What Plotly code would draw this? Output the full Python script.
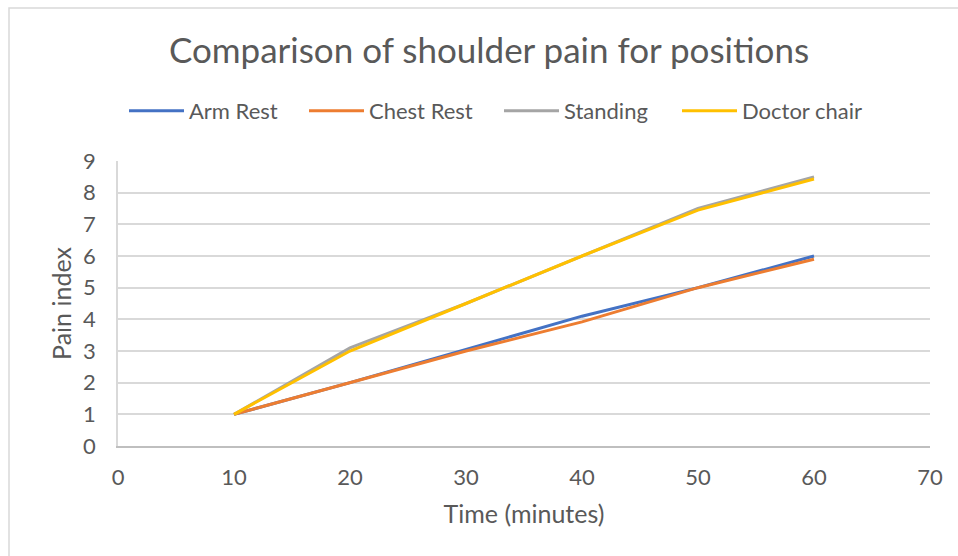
import plotly.graph_objects as go

time_min = [10, 20, 30, 40, 50, 60]
arm_rest = [1, 2, 3.05, 4.1, 5, 6]
chest_rest = [1, 2, 3, 3.92, 5, 5.9]
standing = [1, 3.1, 4.5, 6, 7.5, 8.5]
doctor_chair = [1, 3, 4.5, 6, 7.45, 8.43]

series = [
    ("Arm Rest", arm_rest, "#4472C4"),
    ("Chest Rest", chest_rest, "#ED7D31"),
    ("Standing", standing, "#A5A5A5"),
    ("Doctor chair", doctor_chair, "#FFC000"),
]
legend_line_start_px = [130, 310, 505, 683]

FONT = "Lato, Open Sans, sans-serif"
TXT = "#595959"

W, H = 958, 556
L, R, T, B = 118, 28, 161, 110
pw, ph = W - L - R, H - T - B

def px_to_paper_x(px):
    return (px - L) / pw

def px_to_paper_y(py):
    return (H - B - py) / ph

fig = go.Figure()
legend_layouts = {}
for i, ((name, vals, color), lx) in enumerate(zip(series, legend_line_start_px)):
    key = "legend" if i == 0 else f"legend{i + 1}"
    fig.add_trace(go.Scatter(x=time_min, y=vals, mode="lines", name=name,
                             legend=key, line=dict(color=color, width=3)))
    legend_layouts[key] = dict(
        orientation="h", x=px_to_paper_x(lx - 6), xanchor="left",
        y=px_to_paper_y(111), yanchor="middle",
        font=dict(size=22, color=TXT, family=FONT),
        itemwidth=55, bgcolor="rgba(0,0,0,0)", borderwidth=0)

fig.update_layout(
    width=W, height=H,
    margin=dict(l=L, r=R, t=T, b=B),
    paper_bgcolor="white", plot_bgcolor="white",
    font=dict(family=FONT, color=TXT),
    title=dict(text="Comparison of shoulder pain for positions",
               x=489 / W, xanchor="center", y=1 - 51 / H, yanchor="middle",
               font=dict(size=35, color=TXT, family=FONT)),
    xaxis=dict(range=[0, 70], tickmode="linear", tick0=0, dtick=10,
               showgrid=False, zeroline=False, showline=True,
               linecolor="#BFBFBF", linewidth=1.5,
               ticks="", ticklabelstandoff=11, tickfont=dict(size=22, color=TXT, family=FONT),
               title=dict(text="Time (minutes)", font=dict(size=25, color=TXT, family=FONT), standoff=16)),
    yaxis=dict(range=[0, 9], tickmode="linear", tick0=0, dtick=1,
               showgrid=True, gridcolor="#D9D9D9", gridwidth=1.5,
               zeroline=False, showline=True, linecolor="#D9D9D9", linewidth=1.5,
               ticks="", ticklabelstandoff=16, tickfont=dict(size=22, color=TXT, family=FONT),
               title=dict(text="Pain index", font=dict(size=25, color=TXT, family=FONT), standoff=4)),
    showlegend=True,
    **legend_layouts,
)

# chart border
fig.add_shape(type="rect", xref="paper", yref="paper",
              x0=px_to_paper_x(9), x1=px_to_paper_x(975),
              y0=px_to_paper_y(575), y1=px_to_paper_y(8),
              line=dict(color="#D9D9D9", width=1.5), fillcolor="rgba(0,0,0,0)", layer="below")

fig.write_html("out.html", config={"displayModeBar": False},
               post_script="document.body.style.margin='0';document.body.style.overflow='hidden';")
